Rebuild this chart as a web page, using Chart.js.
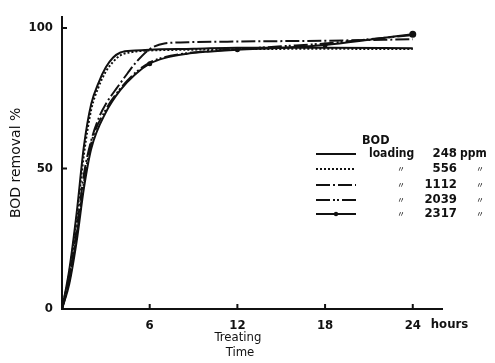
<!DOCTYPE html>
<html>
<head>
<meta charset="utf-8">
<script src="https://cdn.jsdelivr.net/npm/chart.js@4.4.1/dist/chart.umd.min.js"></script>
<style>
  html, body { margin: 0; padding: 0; background: #fff; }
  #wrap { width: 495px; height: 363px; }
</style>
</head>
<body>
<div id="wrap"><canvas id="chart" width="495" height="363"></canvas></div>
<script>
// treating time (hours) and BOD removal (%)
const t248 = [0, 0.5, 1, 1.5, 2, 2.5, 3, 3.5, 4, 5, 6, 9, 12, 18, 24];
const v248 = [0, 14, 34, 58, 73, 80.5, 86, 89.5, 91.3, 92, 92.3, 92.6, 93, 93, 92.8];

const t556 = [0, 0.5, 1, 1.5, 2, 2.5, 3, 3.5, 4, 5, 6, 9, 12, 18, 24];
const v556 = [0, 13, 32, 55, 71, 79, 84.5, 88, 90.3, 91.6, 92, 92.3, 92.5, 92.6, 92.5];

const t1112 = [0, 0.5, 1, 1.5, 2, 2.6, 3, 3.8, 4.5, 5.1, 6, 7, 9, 12, 18, 24];
const v1112 = [0, 11, 28, 48, 60, 69, 73, 79, 84, 88, 92.5, 94.5, 95, 95.2, 95.5, 96];

const t2039 = [0, 0.5, 1, 1.5, 2, 3, 4, 5, 6, 7, 8.5, 10, 12, 15, 18, 21, 24];
const v2039 = [0, 10, 26, 45, 59, 71, 78.5, 84, 87.7, 89.6, 91, 91.8, 92.5, 93.5, 94.5, 96, 97.5];

const t2317 = [0, 0.5, 1, 1.5, 2, 3, 4, 5, 6, 7, 8.5, 10, 12, 15, 18, 21, 24];
const v2317 = [0, 9, 24, 43, 57, 70, 78, 83.5, 87.3, 89.3, 90.8, 91.6, 92.3, 93, 94, 95.8, 97.8];

const loadings = ['248', '556', '1112', '2039', '2317'];
const yTicks = [0, 50, 100];
const xTicks = [6, 12, 18, 24];

const FONT = "'DejaVu Sans Condensed', 'Liberation Sans Narrow', 'DejaVu Sans', sans-serif";

function pts(ts, vs) {
  return ts.map((t, i) => ({ x: t, y: vs[i] }));
}

const dashes = [[], [2, 2], [14, 3, 2, 3], [14, 3, 2, 2, 2, 3], []];

const ctx = document.getElementById('chart').getContext('2d');

const dotRadius = t2317.map(t => (t === 24 ? 2.5 : (t === 6 || t === 12 || t === 18 ? 1.5 : 0)));

const baseLine = {
  borderColor: '#111',
  backgroundColor: '#111',
  borderWidth: 2,
  pointRadius: 0,
  fill: false,
  cubicInterpolationMode: 'monotone'
};

// extra decorations: inward ticks, axis words and the hand-made legend
const decorations = {
  id: 'decorations',
  afterDraw(chart) {
    const c = chart.ctx;
    const xs = chart.scales.x;
    const ys = chart.scales.y;
    c.save();
    c.strokeStyle = '#111';
    c.lineWidth = 2;
    c.beginPath();
    yTicks.slice(1).forEach(v => {
      const py = ys.getPixelForValue(v);
      c.moveTo(xs.left, py);
      c.lineTo(xs.left + 5, py);
    });
    xTicks.forEach(v => {
      const px = xs.getPixelForValue(v);
      c.moveTo(px, ys.bottom);
      c.lineTo(px, ys.bottom - 5);
    });
    c.stroke();

    c.fillStyle = '#111';
    c.font = 'bold 13px ' + FONT;
    c.textBaseline = 'middle';
    c.textAlign = 'left';
    c.fillText('hours', xs.getPixelForValue(24) + 18, 325);
    c.font = '13px ' + FONT;
    c.textAlign = 'center';
    c.fillText('Treating', 238, 338);
    c.fillText('Time', 240, 353);

    // legend
    c.font = 'bold 12.5px ' + FONT;
    c.textAlign = 'left';
    c.fillText('BOD', 362, 141);
    const rows = [154, 169, 185, 200, 214];
    rows.forEach((ry, i) => {
      c.save();
      c.lineWidth = 2;
      c.setLineDash(dashes[i]);
      c.beginPath();
      c.moveTo(316, ry);
      c.lineTo(356, ry);
      c.stroke();
      c.restore();
      if (i === 4) {
        c.beginPath();
        c.arc(336, ry, 2.2, 0, Math.PI * 2);
        c.fill();
      }
      c.font = 'bold 13px ' + FONT;
      c.textAlign = 'right';
      c.fillText(loadings[i], 457, ry);
      if (i === 0) {
        c.font = 'bold 12px ' + FONT;
        c.textAlign = 'left';
        c.fillText('loading', 369, ry);
        c.fillText('ppm', 460, ry);
      } else {
        c.font = '8px "Noto Sans CJK JP", sans-serif';
        c.textAlign = 'center';
        c.fillText('\u3003', 401, ry);
        c.fillText('\u3003', 480, ry);
      }
    });
    c.restore();
  }
};

new Chart(ctx, {
  type: 'line',
  data: {
    datasets: [
      Object.assign({}, baseLine, { label: loadings[0], data: pts(t248, v248), borderDash: dashes[0] }),
      Object.assign({}, baseLine, { label: loadings[1], data: pts(t556, v556), borderDash: dashes[1] }),
      Object.assign({}, baseLine, { label: loadings[2], data: pts(t1112, v1112), borderDash: dashes[2] }),
      Object.assign({}, baseLine, { label: loadings[3], data: pts(t2039, v2039), borderDash: dashes[3] }),
      Object.assign({}, baseLine, { label: loadings[4], data: pts(t2317, v2317), borderDash: dashes[4], pointRadius: dotRadius })
    ]
  },
  options: {
    responsive: false,
    animation: false,
    layout: { padding: { top: 10, right: 53, left: 0, bottom: 0 } },
    plugins: {
      legend: { display: false },
      tooltip: { enabled: false }
    },
    scales: {
      x: {
        type: 'linear',
        min: 0,
        max: 26,
        afterBuildTicks: s => { s.ticks = xTicks.map(v => ({ value: v })); },
        afterFit: s => { s.height = 54; },
        grid: { display: false, drawTicks: false },
        border: { display: true, color: '#111', width: 2 },
        ticks: { color: '#111', padding: 9, maxRotation: 0, font: { family: FONT, size: 13, weight: 'bold' } }
      },
      y: {
        min: 0,
        max: 104,
        afterBuildTicks: s => { s.ticks = yTicks.map(v => ({ value: v })); },
        afterFit: s => { s.width = 62; },
        grid: { display: false, drawTicks: false },
        border: { display: true, color: '#111', width: 2 },
        title: {
          display: true,
          text: 'BOD removal %',
          color: '#111',
          padding: { top: 8, bottom: 0 },
          font: { family: "'DejaVu Sans', sans-serif", size: 14 }
        },
        ticks: { color: '#111', padding: 9, font: { family: FONT, size: 13, weight: 'bold' } }
      }
    }
  },
  plugins: [decorations]
});
</script>
</body>
</html>
